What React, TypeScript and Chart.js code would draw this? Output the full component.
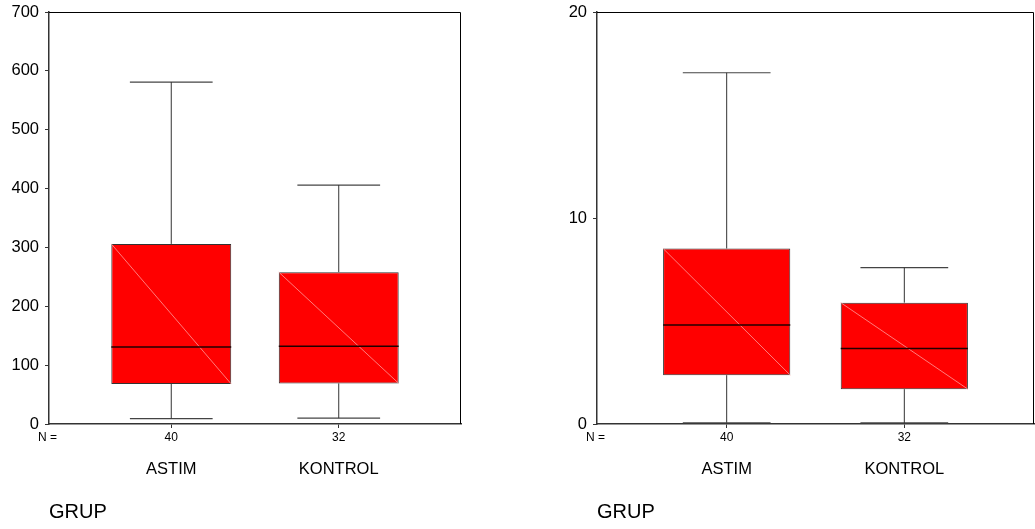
import React, { useEffect, useRef } from "react";
import { Chart, registerables } from "chart.js";

Chart.register(...registerables);

const FONT = 'Arial, "Liberation Sans", sans-serif';

// ---- data ----
const categories = ["ASTIM", "KONTROL"];
const nCounts = [40, 32];

const leftMin = [9, 10];
const leftQ1 = [68, 69];
const leftMedian = [131, 132];
const leftQ3 = [306, 258];
const leftMax = [581, 406];
const leftYTicks = [0, 100, 200, 300, 400, 500, 600, 700];

const rightMin = [0.06, 0.05];
const rightQ1 = [2.37, 1.69];
const rightMedian = [4.8, 3.67];
const rightQ3 = [8.52, 5.89];
const rightMax = [17.05, 7.59];
const rightYTicks = [0, 10, 20];

// ---- layout / style constants ----
const X_MIN = 0.27;
const X_MAX = 2.73;
const BOX_FRACTION = 0.716;
const BOX_HALF = BOX_FRACTION / 2;
const CAP_HALF = 0.247;

type Stats = { min: number[]; q1: number[]; med: number[]; q3: number[]; max: number[] };

function seg(x1: number, y1: number, x2: number, y2: number) {
  return [
    { x: x1, y: y1 },
    { x: x2, y: y2 },
  ];
}

function lineDs(data: any, color: string, width: number, order: number) {
  return {
    type: "line" as const,
    data,
    borderColor: color,
    borderWidth: width,
    pointRadius: 0,
    pointHoverRadius: 0,
    fill: false,
    tension: 0,
    order,
    xAxisID: "x",
    yAxisID: "y",
  };
}

function buildConfig(s: Stats, yTicks: number[], yAxisWidth: number, rightPad: number): any {
  const datasets: any[] = [];
  datasets.push({
    type: "bar",
    data: categories.map((_, i) => ({ x: i + 1, y: [s.q1[i], s.q3[i]] })),
    backgroundColor: "#ff0000",
    borderColor: "#333333",
    borderWidth: 1,
    borderSkipped: false,
    barPercentage: 1,
    categoryPercentage: BOX_FRACTION,
    grouped: false,
    order: 2,
    xAxisID: "x",
    yAxisID: "y",
  });
  categories.forEach((_, i) => {
    const c = i + 1;
    datasets.push(lineDs(seg(c, s.q3[i], c, s.max[i]), "#333333", 1, 3));
    datasets.push(lineDs(seg(c, s.min[i], c, s.q1[i]), "#333333", 1, 3));
    datasets.push(lineDs(seg(c - CAP_HALF, s.max[i], c + CAP_HALF, s.max[i]), "#444444", 1.2, 3));
    datasets.push(lineDs(seg(c - CAP_HALF, s.min[i], c + CAP_HALF, s.min[i]), "#444444", 1.2, 3));
    datasets.push(lineDs(seg(c - BOX_HALF, s.q3[i], c + BOX_HALF, s.q1[i]), "#ff9a9a", 0.8, 1));
    datasets.push(lineDs(seg(c - BOX_HALF, s.med[i], c + BOX_HALF, s.med[i]), "#220000", 1.5, 0));
  });

  const setCatTicks = (scale: any) => {
    scale.ticks = categories.map((_, i) => ({ value: i + 1 }));
  };

  const framePlugin = {
    id: "frame",
    afterDraw(chart: any) {
      const { ctx, chartArea } = chart;
      const xs = chart.scales.x;
      ctx.save();
      ctx.strokeStyle = "#000";
      ctx.lineWidth = 1;
      ctx.beginPath();
      ctx.moveTo(chartArea.left, chartArea.top + 0.5);
      ctx.lineTo(chartArea.right - 0.5, chartArea.top + 0.5);
      ctx.lineTo(chartArea.right - 0.5, chartArea.bottom);
      ctx.stroke();
      ctx.fillStyle = "#000";
      ctx.font = `12px ${FONT}`;
      ctx.textAlign = "left";
      ctx.textBaseline = "middle";
      ctx.fillText("N =", chartArea.left - 11, xs.top + 13.2);
      ctx.restore();
    },
  };

  return {
    type: "bar",
    data: { datasets },
    plugins: [framePlugin],
    options: {
      responsive: false,
      animation: false,
      events: [],
      layout: { padding: { top: 12, right: rightPad, left: 0, bottom: 0 } },
      plugins: { legend: { display: false }, tooltip: { enabled: false } },
      scales: {
        x: {
          type: "linear",
          position: "bottom",
          min: X_MIN,
          max: X_MAX,
          offset: false,
          afterBuildTicks: setCatTicks,
          afterFit: (sc: any) => {
            sc.height = 23;
            sc.paddingLeft = 0;
            sc.paddingRight = 0;
          },
          ticks: {
            callback: (_v: any, i: number) => String(nCounts[i]),
            font: { size: 12, family: FONT },
            color: "#000",
            padding: 2,
            autoSkip: false,
            maxRotation: 0,
          },
          grid: { display: true, offset: false, drawOnChartArea: false, drawTicks: true, tickLength: 4, color: "#333" },
          border: { display: true, color: "#333", width: 1.5 },
        },
        x2: {
          type: "linear",
          position: "bottom",
          min: X_MIN,
          max: X_MAX,
          offset: false,
          afterBuildTicks: setCatTicks,
          afterFit: (sc: any) => {
            sc.height = 82;
            sc.paddingLeft = 0;
            sc.paddingRight = 0;
          },
          ticks: {
            callback: (_v: any, i: number) => categories[i],
            font: { size: 16.5, family: FONT },
            color: "#000",
            padding: 5,
            autoSkip: false,
            maxRotation: 0,
          },
          grid: { display: false, offset: false },
          border: { display: false },
          title: {
            display: true,
            text: "GRUP",
            align: "start",
            color: "#000",
            font: { size: 20, family: FONT },
            padding: { top: 0, bottom: 5 },
          },
        },
        y: {
          type: "linear",
          min: yTicks[0],
          max: yTicks[yTicks.length - 1],
          afterBuildTicks: (sc: any) => {
            sc.ticks = yTicks.map((v) => ({ value: v }));
          },
          afterFit: (sc: any) => {
            sc.width = yAxisWidth;
            sc.paddingTop = 0;
            sc.paddingBottom = 0;
          },
          ticks: {
            font: { size: 16.5, family: FONT },
            color: "#000",
            padding: 6,
            autoSkip: false,
          },
          grid: { display: true, drawOnChartArea: false, drawTicks: true, tickLength: 4, color: "#333" },
          border: { display: true, color: "#333", width: 1.5 },
        },
      },
    },
  };
}

function BoxChart(props: {
  left: number;
  width: number;
  stats: Stats;
  yTicks: number[];
  yAxisWidth: number;
  rightPad: number;
}) {
  const ref = useRef<HTMLCanvasElement | null>(null);
  useEffect(() => {
    if (!ref.current) return;
    const chart = new Chart(ref.current, buildConfig(props.stats, props.yTicks, props.yAxisWidth, props.rightPad));
    return () => chart.destroy();
  }, []);
  return (
    <canvas
      ref={ref}
      width={props.width}
      height={529}
      style={{ position: "absolute", left: props.left, top: 0, width: props.width, height: 529, display: "block" }}
    />
  );
}

export default function App() {
  Chart.defaults.font.family = FONT;
  return (
    <div style={{ position: "fixed", left: 0, top: 0, width: 1035, height: 529, background: "#fff", overflow: "hidden" }}>
      <BoxChart
        left={0}
        width={470}
        stats={{ min: leftMin, q1: leftQ1, med: leftMedian, q3: leftQ3, max: leftMax }}
        yTicks={leftYTicks}
        yAxisWidth={49}
        rightPad={9}
      />
      <BoxChart
        left={540}
        width={495}
        stats={{ min: rightMin, q1: rightQ1, med: rightMedian, q3: rightQ3, max: rightMax }}
        yTicks={rightYTicks}
        yAxisWidth={57}
        rightPad={1}
      />
    </div>
  );
}
